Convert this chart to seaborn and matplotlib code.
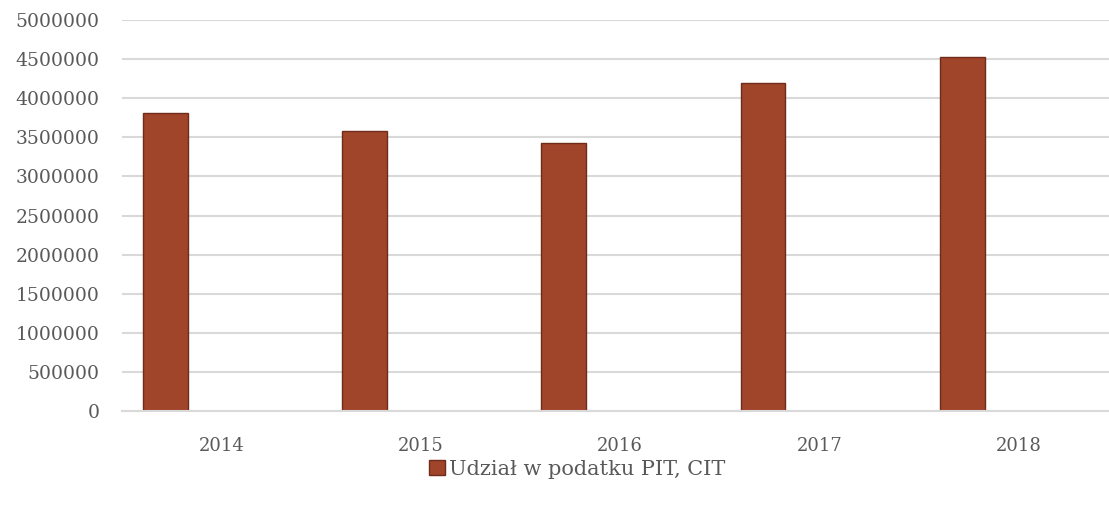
import pandas as pd
import matplotlib
matplotlib.use("Agg")
import matplotlib.pyplot as plt
import seaborn as sns

# values
years = ["2014", "2015", "2016", "2017", "2018"]
udzial = [3810000, 3580000, 3430000, 4190000, 4530000]
series_name = "Udział w podatku PIT, CIT"

yticks = [0, 500000, 1000000, 1500000, 2000000, 2500000,
          3000000, 3500000, 4000000, 4500000, 5000000]

BAR = "#A0442A"
EDGE = "#6E2C19"
TEXT = "#595959"
GRID = "#D9D9D9"


def build_frame():
    return pd.DataFrame({"rok": years, "wartosc": udzial, "seria": series_name})


def draw(df):
    sns.set_theme(style="white")
    plt.rcParams["font.family"] = ["DejaVu Serif"]

    fig = plt.figure(figsize=(11.09, 5.11), dpi=100)
    ax = fig.add_axes([122 / 1109, 1 - 411 / 511, 996 / 1109, 391 / 511])

    # the Excel chart leaves room for empty series next to the bar
    levels = [series_name, "_a", "_b"]
    sns.barplot(data=df, x="rok", y="wartosc", hue="seria", hue_order=levels,
                palette=[BAR, BAR, BAR], width=0.846, gap=0.2, dodge=True,
                edgecolor=EDGE, linewidth=1.0, saturation=1.0, legend=False, ax=ax)

    ax.set_ylim(0, 5000000)
    ax.set_yticks(yticks)
    ax.set_yticklabels([str(v) for v in yticks])
    ax.yaxis.grid(True, color=GRID, linewidth=1.5)
    ax.set_axisbelow(True)
    for s in ["top", "right", "left"]:
        ax.spines[s].set_visible(False)
    ax.spines["bottom"].set_color(GRID)
    ax.spines["bottom"].set_linewidth(1.5)

    ax.tick_params(axis="both", length=0, colors=TEXT)
    ax.tick_params(axis="y", pad=16, labelsize=13.5)
    ax.tick_params(axis="x", pad=19, labelsize=13)
    ax.set_xlabel("")
    ax.set_ylabel("")

    handle = ax.containers[0].patches[0]
    fig.legend([handle], [series_name], loc="center", bbox_to_anchor=(577 / 1109, 1 - 469 / 511),
               frameon=False, handlelength=0.75, handleheight=0.75, handletextpad=0.2,
               prop={"size": 15}, labelcolor=TEXT)

    fig.savefig("out.png", dpi=100)


def main():
    df = build_frame()
    draw(df)


if __name__ == "__main__":
    main()
